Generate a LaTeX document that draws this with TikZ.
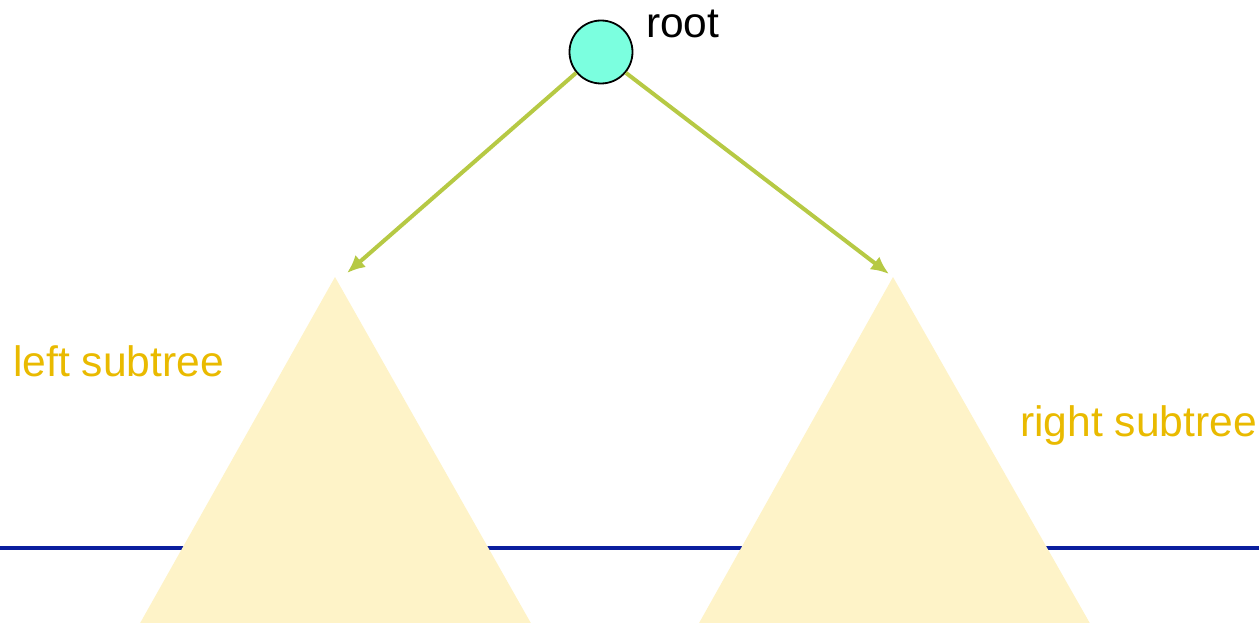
\documentclass[tikz,border=0pt]{standalone}
\usepackage{fontspec}
\setmainfont{Liberation Sans}
\usetikzlibrary{arrows.meta}
\definecolor{treefill}{HTML}{FEF3C8}
\definecolor{linkgreen}{HTML}{B6C944}
\definecolor{labelgold}{HTML}{E9BA00}
\definecolor{levelblue}{HTML}{0A1E9E}
\definecolor{rootfill}{HTML}{7BFFDF}
\tikzset{
  subtree/.style={fill=treefill, draw=none},
  link/.style={draw=linkgreen, line width=4pt, -{Latex[length=18pt,width=16pt]}},
  treelabel/.style={text=labelgold, font=\fontsize{42.6}{50}\selectfont, inner sep=0pt, anchor=west},
  rootnode/.style={circle, draw=black, line width=1.8pt, fill=rootfill, minimum size=63pt, inner sep=0pt}
}
\begin{document}
\begin{tikzpicture}[x=1pt,y=-1pt]
\useasboundingbox (0,0) rectangle (1259,623);
\clip (0,0) rectangle (1259,623);
% level line
\coordinate (lineL) at (0,548);
\coordinate (lineR) at (1259,548);
\draw[levelblue, line width=3.5pt] (lineL) -- (lineR);
% subtrees
\coordinate (apexL) at (335,277);
\coordinate (apexR) at (893,277);
\fill[subtree] (apexL) -- (130,641) -- (541,641) -- cycle;
\fill[subtree] (apexR) -- (689,641) -- (1100,641) -- cycle;
% root
\node[rootnode] (root) at (601,52) {};
\node[inner sep=0pt, anchor=west, font=\fontsize{42.5}{50}\selectfont] (rootlabel) at (646,24) {root};
% arrows
\coordinate (tipL) at (347,273);
\coordinate (tipR) at (889,274);
\draw[link] (root.-140) -- (tipL);
\draw[link] (root.-40) -- (tipR);
% labels
\node[treelabel] (leftlabel) at (13,361) {left subtree};
\node[treelabel] (rightlabel) at (1020,425) {right subtree};
\end{tikzpicture}
\end{document}
